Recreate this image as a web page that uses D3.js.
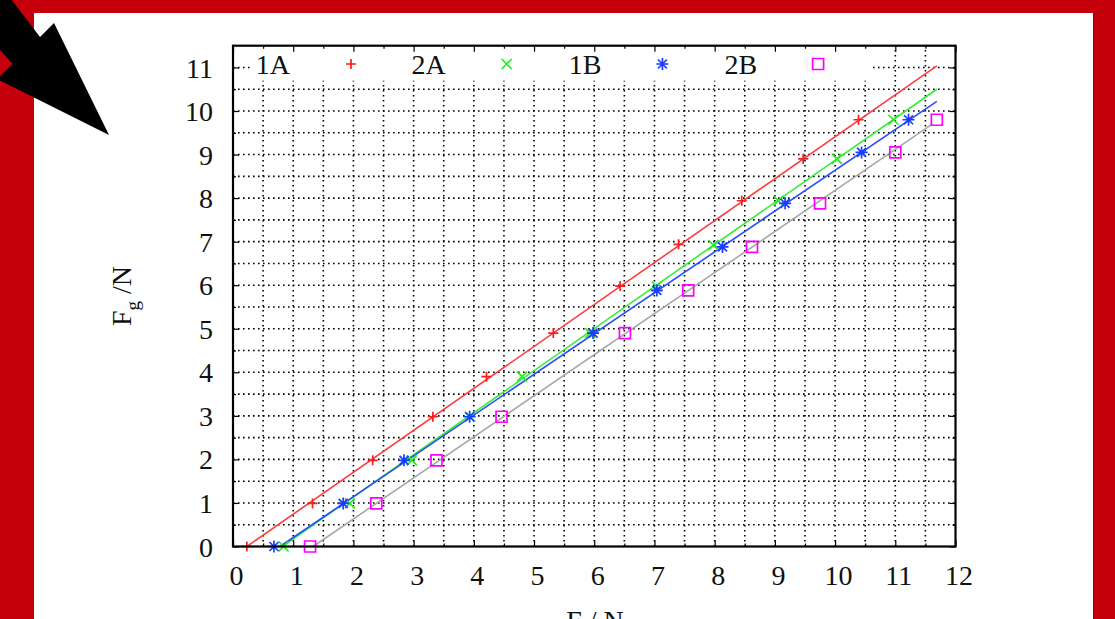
<!DOCTYPE html>
<html>
<head>
<meta charset="utf-8">
<script src="https://cdn.jsdelivr.net/npm/d3@7"></script>
<style>
  html, body { margin: 0; padding: 0; background: #c6000b; }
  svg { display: block; }
</style>
</head>
<body>
<svg id="chart" width="1115" height="619"></svg>
<script>
// ---------- data ----------
const seriesNames = ["1A", "2A", "1B", "2B"];
const seriesColors = ["#ff1a1a", "#22ee22", "#1a3cff", "#ff00ff"];
const fitColors = ["#ff3b3b", "#33ee33", "#2a4cff", "#a8a8a8"];
const seriesMarkers = ["plus", "cross", "star", "square"];

const x1A = [0.23, 1.32, 2.32, 3.32, 4.21, 5.32, 6.43, 7.40, 8.45, 9.47, 10.39];
const y1A = [0, 0.99, 1.98, 2.98, 3.90, 4.90, 5.98, 6.94, 7.94, 8.90, 9.80];

const x2A = [0.84, 1.94, 2.97, 3.94, 4.80, 5.93, 7.04, 7.98, 9.06, 10.03, 10.97];
const y2A = [0, 0.99, 1.98, 2.98, 3.90, 4.90, 5.97, 6.92, 7.94, 8.90, 9.80];

const x1B = [0.68, 1.83, 2.84, 3.93, 5.98, 7.04, 8.13, 9.17, 10.44, 11.22];
const y1B = [0, 0.99, 1.98, 2.98, 4.90, 5.88, 6.88, 7.88, 9.05, 9.80];

const x2B = [1.28, 2.38, 3.38, 4.46, 6.51, 7.56, 8.62, 9.75, 11.00, 11.69];
const y2B = [0, 0.99, 1.98, 2.98, 4.90, 5.88, 6.88, 7.88, 9.05, 9.80];

// fitted straight lines (start x where F_g = 0, end x, slope)
const fitStart = [0.23, 0.82, 0.78, 1.33];
const fitEnd = [11.69, 11.69, 11.69, 11.62];
const fitSlope = [0.963, 0.966, 0.937, 0.943];

const xTickLabels = [0, 1, 2, 3, 4, 5, 6, 7, 8, 9, 10, 11, 12];
const yTickLabels = [0, 1, 2, 3, 4, 5, 6, 7, 8, 9, 10, 11];
const xDomain = [0, 12];
const yDomain = [0, 11.5];

const xLabel = "F / N";

// ---------- layout ----------
const svg = d3.select("#chart");
const W = 1115, H = 619;
const plot = { left: 233, right: 955.5, top: 45.7, bottom: 546.5 };
const FONT = "'Liberation Serif', 'Times New Roman', serif";

// slide background
svg.append("rect").attr("x", 0).attr("y", 0).attr("width", W).attr("height", H).attr("fill", "#c6000b");
svg.append("rect").attr("x", 34).attr("y", 13).attr("width", 1059).attr("height", H).attr("fill", "#ffffff");
svg.append("line").attr("x1", 1093.5).attr("x2", 1093.5).attr("y1", 13).attr("y2", H)
  .attr("stroke", "#8a0008").attr("stroke-width", 1);

// decorative arrow in top-left corner
svg.append("path")
  .attr("d", "M0,0 L11.7,0 L40,37 L54,23 L109,135 L-3,79 L12.7,64 L0,50 Z")
  .attr("fill", "#000");

const x = d3.scaleLinear().domain(xDomain).range([plot.left, plot.right]);
const y = d3.scaleLinear().domain(yDomain).range([plot.bottom, plot.top]);

const g = svg.append("g");

// grid (major + minor, every 0.5)
const gridX = d3.range(0.5, 12, 0.5);
const gridY = d3.range(0.5, 11.5, 0.5);
g.append("g").selectAll("line").data(gridX).join("line")
  .attr("x1", d => x(d)).attr("x2", d => x(d))
  .attr("y1", plot.bottom).attr("y2", plot.top)
  .attr("stroke", "#000").attr("stroke-width", 1.6)
  .attr("stroke-dasharray", "1.6,3.4");
g.append("g").selectAll("line").data(gridY).join("line")
  .attr("x1", plot.left).attr("x2", plot.right)
  .attr("y1", d => y(d)).attr("y2", d => y(d))
  .attr("stroke", "#000").attr("stroke-width", 1.6)
  .attr("stroke-dasharray", "1.6,3.4");

// opaque key box
g.append("rect").attr("x", 250).attr("y", plot.top + 1).attr("width", 622).attr("height", 34)
  .attr("fill", "#fff");

// axes with inward ticks (major + minor) on all four sides
function axisTicks(axisGen, transform, vals, size) {
  const a = g.append("g").attr("transform", transform)
    .call(axisGen.tickValues(vals).tickSize(size).tickFormat(""));
  a.select(".domain").remove();
  a.selectAll("line").attr("stroke", "#000").attr("stroke-width", 1.2);
}
const xMajor = xTickLabels, xMinor = d3.range(0.5, 12, 1);
const yMajor = yTickLabels, yMinor = d3.range(0.5, 11.5, 1);
axisTicks(d3.axisTop(x), `translate(0,${plot.bottom})`, xMajor, 6);
axisTicks(d3.axisTop(x), `translate(0,${plot.bottom})`, xMinor, 3);
axisTicks(d3.axisBottom(x), `translate(0,${plot.top})`, xMajor, 6);
axisTicks(d3.axisBottom(x), `translate(0,${plot.top})`, xMinor, 3);
axisTicks(d3.axisRight(y), `translate(${plot.left},0)`, yMajor, 6);
axisTicks(d3.axisRight(y), `translate(${plot.left},0)`, yMinor, 3);
axisTicks(d3.axisLeft(y), `translate(${plot.right},0)`, yMajor, 6);
axisTicks(d3.axisLeft(y), `translate(${plot.right},0)`, yMinor, 3);

// tick labels
const xAxis = g.append("g").attr("transform", `translate(0,${plot.bottom})`)
  .call(d3.axisBottom(x).tickValues(xTickLabels).tickSize(0).tickPadding(0).tickFormat(d3.format("d")));
xAxis.select(".domain").remove();
xAxis.selectAll("text").attr("font-family", FONT).attr("font-size", 28).attr("fill", "#111")
  .attr("dy", 0).attr("y", 38).attr("dx", 3);

const yAxis = g.append("g").attr("transform", `translate(${plot.left},0)`)
  .call(d3.axisLeft(y).tickValues(yTickLabels).tickSize(0).tickPadding(20).tickFormat(d3.format("d")));
yAxis.select(".domain").remove();
yAxis.selectAll("text").attr("font-family", FONT).attr("font-size", 28).attr("fill", "#111")
  .attr("dy", "0.34em");

// fitted lines
const lineGen = d3.line().x(d => x(d[0])).y(d => y(d[1]));
seriesNames.forEach((n, i) => {
  const pts = [fitStart[i], fitEnd[i]].map(v => [v, fitSlope[i] * (v - fitStart[i])]);
  g.append("path").attr("d", lineGen(pts)).attr("fill", "none")
    .attr("stroke", fitColors[i]).attr("stroke-width", 1.6);
});

// markers
function markerPath(type, s) {
  if (type === "plus") return `M${-s},0H${s}M0,${-s}V${s}`;
  if (type === "cross") return `M${-s},${-s}L${s},${s}M${-s},${s}L${s},${-s}`;
  if (type === "star") return `M${-s},0H${s}M0,${-s}V${s}M${-s*0.75},${-s*0.75}L${s*0.75},${s*0.75}M${-s*0.75},${s*0.75}L${s*0.75},${-s*0.75}`;
  return `M${-s},${-s}H${s}V${s}H${-s}Z`;
}
const markerSize = [5, 5, 6, 5.5];
const allX = [x1A, x2A, x1B, x2B];
const allY = [y1A, y2A, y1B, y2B];
seriesNames.forEach((n, i) => {
  const data = allX[i].map((v, k) => [v, allY[i][k]]);
  g.append("g").selectAll("path").data(data).join("path")
    .attr("transform", d => `translate(${x(d[0])},${y(d[1])})`)
    .attr("d", markerPath(seriesMarkers[i], markerSize[i]))
    .attr("fill", "none").attr("stroke", seriesColors[i]).attr("stroke-width", 1.7);
});

// key (horizontal, text then sample)
seriesNames.forEach((n, i) => {
  const sx = 351 + i * 155.7, sy = 64;
  g.append("text").attr("x", sx - 61).attr("y", sy + 9.5).attr("text-anchor", "end")
    .attr("font-family", FONT).attr("font-size", 28).attr("fill", "#111").text(n);
  g.append("path").attr("transform", `translate(${sx},${sy})`)
    .attr("d", markerPath(seriesMarkers[i], markerSize[i]))
    .attr("fill", "none").attr("stroke", seriesColors[i]).attr("stroke-width", 1.7);
});

// border
g.append("rect").attr("x", plot.left).attr("y", plot.top)
  .attr("width", plot.right - plot.left).attr("height", plot.bottom - plot.top)
  .attr("fill", "none").attr("stroke", "#000").attr("stroke-width", 2.2);

// axis titles
svg.append("text").attr("x", 595).attr("y", 630).attr("text-anchor", "middle")
  .attr("font-family", FONT).attr("font-size", 28).attr("fill", "#111").text(xLabel);

const yl = svg.append("text").attr("transform", "translate(131,296) rotate(-90)")
  .attr("text-anchor", "middle").attr("font-family", FONT).attr("font-size", 28).attr("fill", "#111");
yl.append("tspan").text("F");
yl.append("tspan").attr("font-size", 19).attr("dy", 8).text("g");
yl.append("tspan").attr("dy", -8).text(" /N");
</script>
</body>
</html>
